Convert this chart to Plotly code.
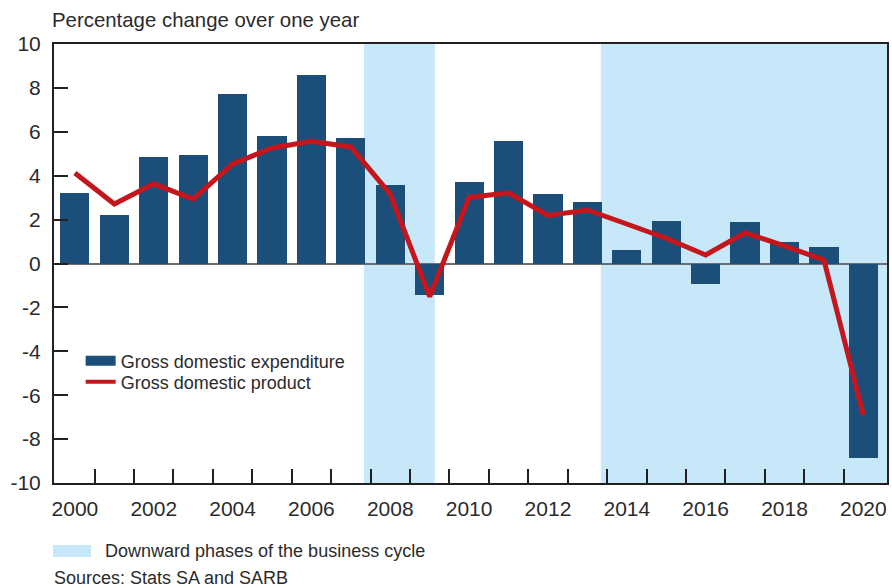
import plotly.graph_objects as go

years = list(range(2000, 2021))
gde = [3.23, 2.21, 4.86, 4.96, 7.70, 5.83, 8.57, 5.73, 3.57, -1.43, 3.71,
       5.58, 3.16, 2.80, 0.61, 1.93, -0.92, 1.89, 0.98, 0.75, -8.84]
gdp = [4.12, 2.71, 3.63, 2.93, 4.54, 5.26, 5.57, 5.31, 3.16, -1.51, 3.01,
       3.22, 2.19, 2.44, 1.80, 1.15, 0.39, 1.40, 0.80, 0.16, -6.90]
phase_start = [2007.33, 2013.34]
phase_end = [2009.13, 2020.6]
x_tick_labels = [str(y) for y in range(2000, 2021, 2)]
y_tick_values = list(range(-10, 11, 2))
y_tick_labels = [str(v) for v in y_tick_values]

BAR = "#1b4f79"
RED = "#c4161c"
SHADE = "#c6e8f8"
AXIS = "#231f20"
TEXT = "#2b2b2b"
FONT = "Liberation Sans, Arial, sans-serif"

fig = go.Figure()

for s, e in zip(phase_start, phase_end):
    fig.add_vrect(x0=s, x1=e, fillcolor=SHADE, opacity=1, line_width=0, layer="below")

fig.add_trace(go.Bar(x=years, y=gde, marker_color=BAR, marker_line_width=0,
                     width=0.74, showlegend=False, name="Gross domestic expenditure"))
fig.add_trace(go.Scatter(x=years, y=gdp, mode="lines", line=dict(color=RED, width=5),
                         showlegend=False, name="Gross domestic product"))
# legend proxies
fig.add_trace(go.Scatter(x=[None], y=[None], mode="lines", line=dict(color=BAR, width=10),
                         name="Gross domestic expenditure", legend="legend"))
fig.add_trace(go.Scatter(x=[None], y=[None], mode="lines", line=dict(color=RED, width=4),
                         name="Gross domestic product", legend="legend2"))

leg_common = dict(xanchor="left", yanchor="middle", bgcolor="rgba(0,0,0,0)",
                  font=dict(size=18, color=TEXT), itemwidth=30)

fig.update_layout(
    width=892, height=588,
    margin=dict(l=54, r=5, t=44, b=105, autoexpand=False),
    plot_bgcolor="white", paper_bgcolor="white",
    font=dict(family=FONT, size=21, color=TEXT),
    bargap=0,
    legend=dict(x=0.032, y=0.278, **leg_common),
    legend2=dict(x=0.032, y=0.230, **leg_common),
)

fig.update_xaxes(
    range=[1999.47, 2020.6], automargin=False,
    tickvals=[int(t) for t in x_tick_labels], ticktext=x_tick_labels,
    ticks="", showgrid=False, zeroline=False,
    showline=True, linecolor=AXIS, linewidth=2, mirror=True,
    ticklabelstandoff=6,
    minor=dict(tickvals=[y + 0.5 for y in years[:-1]], ticks="inside",
               ticklen=14, tickwidth=2, tickcolor=AXIS, showgrid=False),
)
fig.update_yaxes(
    range=[-10, 10], automargin=False,
    tickvals=y_tick_values, ticktext=y_tick_labels,
    ticks="inside", ticklen=14, tickwidth=2, tickcolor=AXIS,
    showgrid=False, showline=True, linecolor=AXIS, linewidth=2, mirror=True,
    zeroline=True, zerolinecolor="#6d6e71", zerolinewidth=2,
    ticklabelstandoff=7,
)

fig.add_annotation(text="Percentage change over one year", xref="paper", yref="paper",
                   x=-0.005, y=1.055, xanchor="left", yanchor="middle", showarrow=False,
                   font=dict(size=20.4, color=TEXT))
fig.add_shape(type="rect", xref="paper", yref="paper", x0=-0.0012, x1=0.0444,
              y0=-0.1686, y1=-0.1412, fillcolor=SHADE, line_width=0)
fig.add_annotation(text="Downward phases of the business cycle", xref="paper", yref="paper",
                   x=0.059, y=-0.155, xanchor="left", yanchor="middle", showarrow=False,
                   font=dict(size=18, color=TEXT))
fig.add_annotation(text="Sources: Stats SA and SARB", xref="paper", yref="paper",
                   x=-0.003, y=-0.2164, xanchor="left", yanchor="middle", showarrow=False,
                   font=dict(size=18, color=TEXT))

fig.write_html(
    "out.html",
    config={"displayModeBar": False},
    post_script="document.body.style.margin='0';document.body.style.overflow='hidden';",
)
